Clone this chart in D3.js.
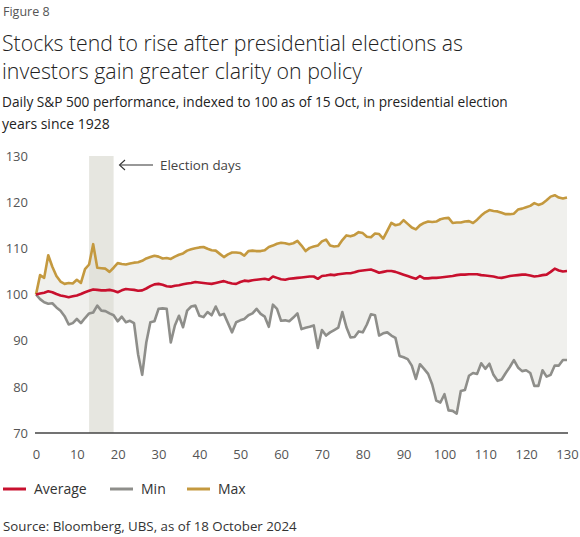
<!DOCTYPE html>
<html>
<head>
<meta charset="utf-8">
<script src="https://cdn.jsdelivr.net/npm/d3@7"></script>
<style>
  body { margin: 0; background: #fff; }
  text { font-family: "Open Sans", "Noto Sans", sans-serif; }
</style>
</head>
<body>
<script>
// data, one value per trading day after 15 Oct
let days = d3.range(0, 131);
let tickValuesX = [0, 10, 20, 30, 40, 50, 60, 70, 80, 90, 100, 110, 120, 130];
let tickValuesY = [70, 80, 90, 100, 110, 120, 130];
let electionDays = [13, 19];

let maxSeries = [100,104.2,103.6,108.5,106,104,102.8,102.3,102.5,102.4,103.2,102.5,105.5,106.5,110.9,105.8,105.7,105.6,104.9,105.8,
  106.8,106.6,106.5,106.7,106.9,107,107.3,107.8,108.1,108.4,108.2,107.8,107.9,107.7,108.2,108.6,108.9,109.5,109.8,110,
  110.2,110.3,109.9,109.6,109.5,108.8,108.1,108.7,109.1,109.1,109,108.4,109.4,109.5,109.4,109.4,109.6,110.3,110.6,111,
  111.2,111.1,110.9,111.1,111.6,110.6,109.4,110.1,110.4,110.6,111.5,111.9,110.6,110.4,110.5,111.8,112.8,112.6,112.9,113.5,
  113.3,112.5,112.4,113.2,113.1,112.1,113.8,115.5,115,115.2,116.1,115.3,114.5,114.1,115,115.5,115.8,115.7,115.8,116.3,
  116.5,116.6,115.5,115.6,115.6,115.8,115.9,115.5,116.2,117.1,117.8,118.3,118.1,118,117.7,117.4,117.4,117.5,118.4,118.6,
  118.9,119.2,119.8,119.4,119.7,120.4,121.2,121.5,121,120.8,121];

let avgSeries = [100,100.2,100.4,100.7,100.5,100.1,99.8,99.6,99.4,99.6,99.8,100.1,100.5,100.8,101.1,101,100.9,100.9,101,100.8,
  100.5,100.9,101.2,101.1,101,100.8,100.9,101.3,101.8,102.2,102.3,102.1,101.8,101.7,101.9,102,102.2,102.4,102.5,102.7,
  102.6,102.5,102.4,102.3,102.5,102.7,102.9,102.6,102.4,102.3,102.7,103,102.9,103.1,103.2,103.3,103.4,103.2,103.9,103.6,
  103.3,103.2,103.4,103.5,103.6,103.7,103.8,103.9,103.9,103.4,104,104.1,104.3,104.2,104.4,104.5,104.6,104.6,104.8,105.1,
  105.2,105.3,105.4,105.1,104.7,104.9,105.1,105.1,104.9,104.6,104.3,104,103.7,103.4,104,103.5,103.5,103.6,103.6,103.7,
  103.8,103.9,104,104.2,104.3,104.3,104.4,104.4,104.4,104.2,104.1,104,103.9,103.7,103.6,103.8,104,104.1,104.2,104.3,
  104.3,104.1,103.9,104,104.2,104.3,104.9,105.6,105.2,105,105.1];

let minSeries = [100,99,98.3,98,98.1,97.2,96.5,95.3,93.5,93.8,94.7,93.8,94.9,95.9,96.1,97.6,96.5,96.4,95.9,95.5,
  94.2,95.2,94,94.3,93.8,87,82.6,89.6,94,94.2,96.9,97,96.9,89.6,93.3,95.4,92.9,96.5,97.4,97.6,
  95.4,95.1,96.2,95.5,97.4,95.5,95.8,93.8,91.8,94,94.4,94.7,95.5,95.9,96.9,95.8,95.2,93,97.8,96.9,
  94.3,94.4,94.2,95,95.9,92.5,92.8,93,93.3,88.4,92.3,91.1,91.8,92.3,92.8,96.2,92.9,90.7,90.8,92,
  91.8,93.5,95.7,95.5,91.1,91.6,91.8,91.1,90.6,86.7,86.4,86,84.6,81.7,84.9,83.9,82.8,80.5,77,76.6,
  78.4,74.9,74.8,74.2,79.1,79.3,82.4,83,82.8,85.1,83.9,85,82.6,81.3,81.6,83,84.3,85.8,84.2,83.4,
  83.6,83,80.2,80.2,83.6,82.2,82.6,84.6,84.6,85.8,85.8];

let seriesNames = ["Average", "Min", "Max"];
let seriesColors = ["#c8102e", "#8e8e8a", "#c4993f"];

const width = 580, height = 537;

let svg = d3.select("body").append("svg")
    .attr("width", width)
    .attr("height", height);

// stretch or shrink a text so that it spans the wanted width
function fitText(sel, targetWidth) {
    let node = sel.node();
    let size = parseFloat(sel.attr("font-size"));
    let w = node.getComputedTextLength();
    sel.attr("font-size", (size * targetWidth / w).toFixed(2));
}

// headings
svg.append("text").attr("x", 3).attr("y", 16).attr("font-size", 12.5)
    .attr("fill", "#555").text("Figure 8");

fitText(svg.append("text").attr("x", 2).attr("y", 51).attr("font-size", 23)
    .attr("fill", "#222").attr("font-weight", 300)
    .text("Stocks tend to rise after presidential elections as"), 461);
fitText(svg.append("text").attr("x", 2).attr("y", 79).attr("font-size", 23)
    .attr("fill", "#222").attr("font-weight", 300)
    .text("investors gain greater clarity on policy"), 360);

fitText(svg.append("text").attr("x", 2).attr("y", 107).attr("font-size", 14)
    .attr("fill", "#222")
    .text("Daily S&P 500 performance, indexed to 100 as of 15 Oct, in presidential election"), 506);
svg.append("text").attr("x", 2).attr("y", 129).attr("font-size", 14)
    .attr("fill", "#222").text("years since 1928");

// scales
let x = d3.scaleLinear().domain([0, 130]).range([36, 567]);
let y = d3.scaleLinear().domain([70, 130]).range([433, 156]);

// range between min and max
let area = d3.area()
    .x(d => x(d))
    .y0(d => y(minSeries[d]))
    .y1(d => y(maxSeries[d]));

svg.append("path")
    .datum(days)
    .attr("d", area)
    .attr("fill", "#f0f0ed");

// election band, drawn over the range fill
svg.append("rect")
    .attr("x", x(electionDays[0]))
    .attr("y", y(130))
    .attr("width", x(electionDays[1]) - x(electionDays[0]))
    .attr("height", y(70) - y(130))
    .attr("fill", "#dcdbd3")
    .attr("opacity", 0.7);

// axes
let yAxis = svg.append("g")
    .attr("transform", "translate(28,0)")
    .call(d3.axisLeft(y).tickValues(tickValuesY).tickSize(0).tickPadding(0));
yAxis.select(".domain").remove();
yAxis.selectAll("text")
    .attr("font-size", 13)
    .attr("fill", "#555")
    .style("font-family", "'Open Sans', 'Noto Sans', sans-serif");

let xAxis = svg.append("g")
    .attr("transform", `translate(0,${y(70)})`)
    .call(d3.axisBottom(x).tickValues(tickValuesX).tickSize(0).tickPadding(17));
xAxis.select(".domain").remove();
xAxis.selectAll("text")
    .attr("font-size", 13)
    .attr("fill", "#555")
    .style("font-family", "'Open Sans', 'Noto Sans', sans-serif");

svg.append("line")
    .attr("x1", 35).attr("x2", 568)
    .attr("y1", y(70)).attr("y2", y(70))
    .attr("stroke", "#444")
    .attr("stroke-width", 1.5);

// lines
let seriesData = [avgSeries, minSeries, maxSeries];
let drawOrder = [1, 2, 0];

drawOrder.forEach(function(i) {
    let line = d3.line()
        .x(d => x(d))
        .y(d => y(seriesData[i][d]));
    svg.append("path")
        .datum(days)
        .attr("d", line)
        .attr("fill", "none")
        .attr("stroke", seriesColors[i])
        .attr("stroke-width", 2.6)
        .attr("stroke-linejoin", "round");
});

// election annotation
svg.append("line")
    .attr("x1", 120).attr("x2", 153)
    .attr("y1", 165).attr("y2", 165)
    .attr("stroke", "#333").attr("stroke-width", 1.1);
svg.append("path")
    .attr("d", "M125,160 L119.5,165 L125,170")
    .attr("fill", "none").attr("stroke", "#333").attr("stroke-width", 1.1);
fitText(svg.append("text").attr("x", 160).attr("y", 170).attr("font-size", 13)
    .attr("fill", "#444").text("Election days"), 81);

// legend
let legendX = [3, 110, 187];
seriesNames.forEach(function(name, i) {
    svg.append("line")
        .attr("x1", legendX[i]).attr("x2", legendX[i] + 23)
        .attr("y1", 489).attr("y2", 489)
        .attr("stroke", seriesColors[i])
        .attr("stroke-width", 3);
    svg.append("text")
        .attr("x", legendX[i] + 31)
        .attr("y", 494)
        .attr("font-size", 14)
        .attr("fill", "#333")
        .text(name);
});

// source
fitText(svg.append("text").attr("x", 3).attr("y", 531).attr("font-size", 12.5)
    .attr("fill", "#333").text("Source: Bloomberg, UBS, as of 18 October 2024"), 294);
</script>
</body>
</html>
